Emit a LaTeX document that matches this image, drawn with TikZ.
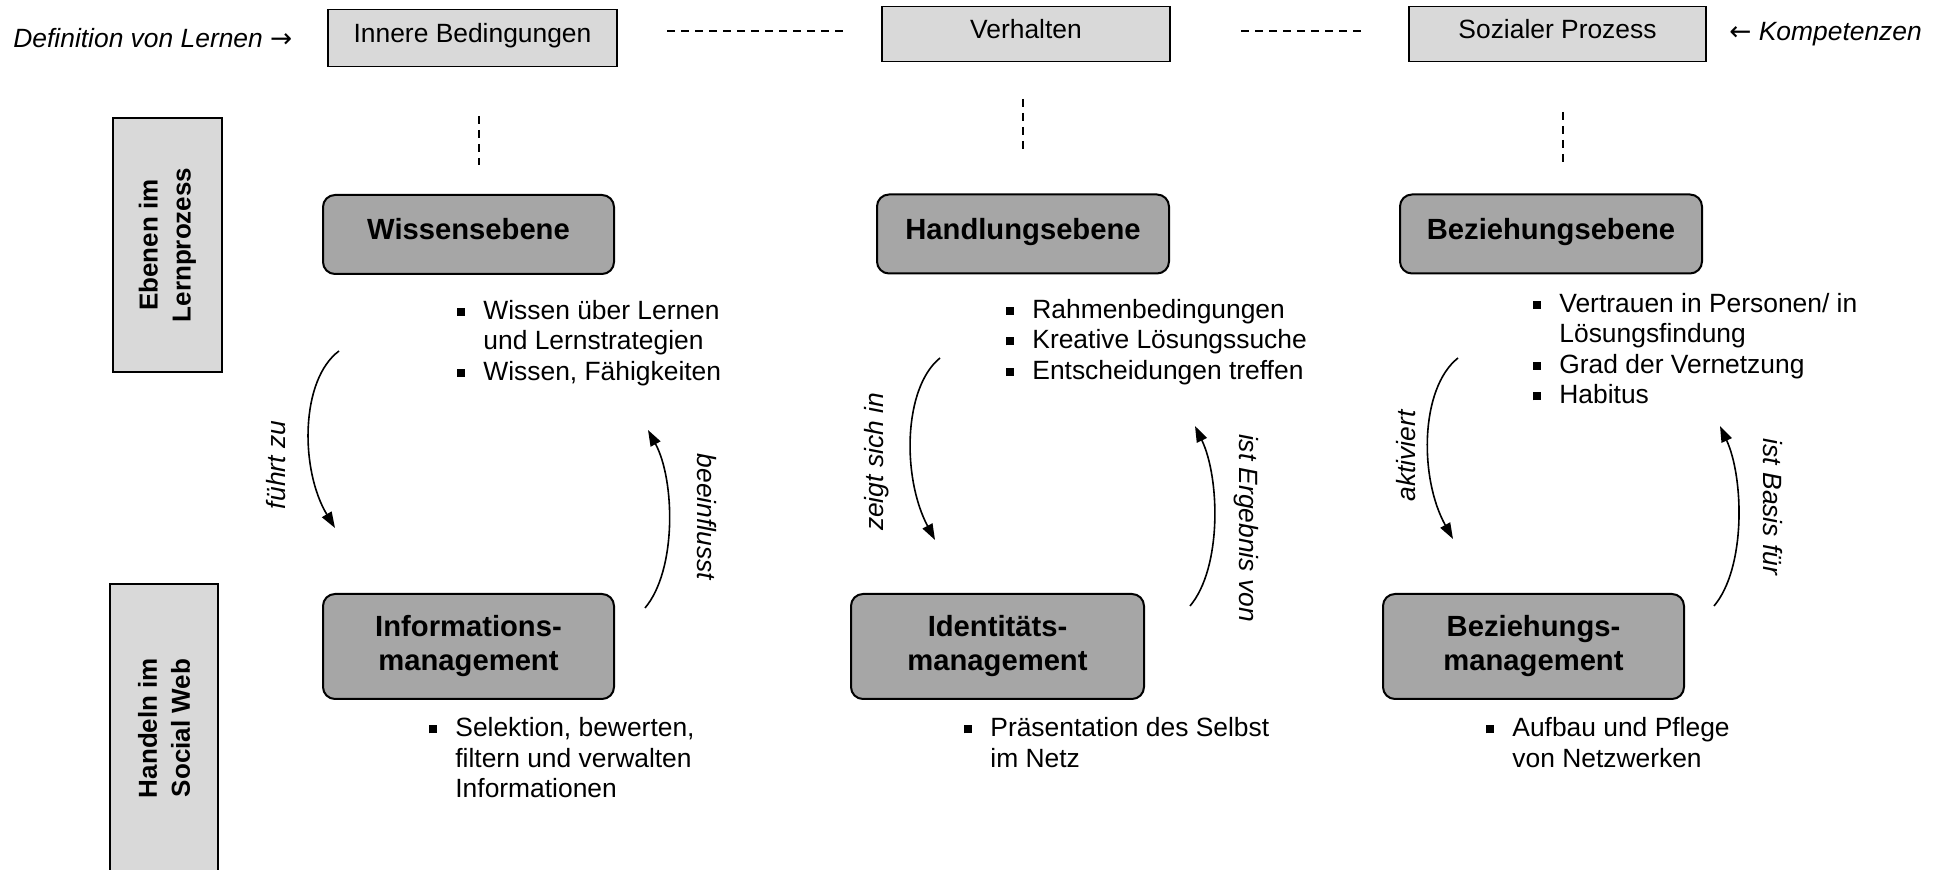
\documentclass[tikz,border=0pt]{standalone}
\usepackage{fontspec}
\setmainfont{Liberation Sans}
\newfontfamily\arrowfont{DejaVu Sans}
\usetikzlibrary{arrows.meta}
\definecolor{lightbox}{HTML}{D9D9D9}
\definecolor{darkbox}{HTML}{A6A6A6}
\newcommand{\bul}{\raisebox{1.8pt}{\rule{4pt}{4pt}}}
\tikzset{
  regfont/.style={font=\fontsize{13.2}{15.25}\selectfont},
  topbox/.style={draw, line width=0.8pt, fill=lightbox, inner sep=0pt,
    regfont, text height=10pt, text depth=5pt},
  levelbox/.style={draw, line width=1pt, fill=darkbox, rounded corners=6pt,
    inner sep=0pt, align=center, font=\fontsize{14.6}{17}\selectfont\bfseries},
  sidebox/.style={draw, line width=1pt, fill=lightbox, inner sep=0pt, rotate=90,
    align=center, font=\fontsize{13}{16.5}\selectfont\bfseries},
  dashline/.style={line width=0.7pt, dash pattern=on 4pt off 3pt},
  flow/.style={line width=0.8pt, -{Triangle[length=8pt,width=5.5pt]}},
  rel/.style={font=\fontsize{13.2}{15.25}\selectfont\itshape, inner sep=0pt},
  listnode/.style={regfont, anchor=base west, inner sep=0pt}
}
\begin{document}
\begin{tikzpicture}[x=0.5pt,y=-0.5pt]
\useasboundingbox (0,0) rectangle (1950,870);

% top row
\node[rel, anchor=west] (def) at (13,38) {Definition von Lernen {\upshape\arrowfont →}};
\node[topbox, minimum width=144.5pt, minimum height=28.5pt] (inner) at (472.5,38) {Innere Bedingungen};
\node[topbox, minimum width=144pt, minimum height=27.5pt] (verh) at (1026,34) {Verhalten};
\node[topbox, minimum width=148.5pt, minimum height=27.5pt] (soz) at (1557.5,34) {Sozialer Prozess};
\node[rel, anchor=west] (komp) at (1729,34) {{\upshape\arrowfont ←} Kompetenzen};

\coordinate (h1a) at (667,31); \coordinate (h1b) at (846,31);
\coordinate (h2a) at (1241,31); \coordinate (h2b) at (1366,31);
\draw[dashline] (h1a) -- (h1b);
\draw[dashline] (h2a) -- (h2b);

\coordinate (v1a) at (479,116); \coordinate (v1b) at (479,165);
\coordinate (v2a) at (1023,99); \coordinate (v2b) at (1023,153);
\coordinate (v3a) at (1563,112); \coordinate (v3b) at (1563,162);
\draw[dashline] (v1a) -- (v1b);
\draw[dashline] (v2a) -- (v2b);
\draw[dashline] (v3a) -- (v3b);

% side labels
\node[sidebox, minimum width=127pt, minimum height=54.5pt] (ebenen) at (167.5,245) {Ebenen im\\Lernprozess};
\node[sidebox, minimum width=144pt, minimum height=54pt] (handeln) at (164,728) {Handeln im\\Social Web};

% level boxes
\node[levelbox, minimum width=145.5pt, minimum height=39.5pt, text height=10.5pt, text depth=5pt] (wissen) at (468.5,234.5) {Wissensebene};
\node[levelbox, minimum width=146pt, minimum height=39.5pt, text height=10.5pt, text depth=5pt] (handl) at (1023,234) {Handlungsebene};
\node[levelbox, minimum width=151pt, minimum height=39.5pt, text height=10.5pt, text depth=5pt] (bez) at (1551,234) {Beziehungsebene};

\node[levelbox, minimum width=145.5pt, minimum height=52.5pt] (info) at (468.5,646.5) {Informations-\\management};
\node[levelbox, minimum width=146.5pt, minimum height=52.5pt] (ident) at (997.5,646.5) {Identitäts-\\management};
\node[levelbox, minimum width=150.5pt, minimum height=52.5pt] (bezm) at (1533.5,646.5) {Beziehungs-\\management};

% lists
\node[listnode] (lw) at (457,319.5) {\begin{tabular}[t]{@{}l@{\hspace{9pt}}l@{}}\bul & Wissen über Lernen\\ & und Lernstrategien\\ \bul & Wissen, Fähigkeiten\end{tabular}};
\node[listnode] (lh) at (1006,318.5) {\begin{tabular}[t]{@{}l@{\hspace{9pt}}l@{}}\bul & Rahmenbedingungen\\ \bul & Kreative Lösungssuche\\ \bul & Entscheidungen treffen\end{tabular}};
\node[listnode] (lb) at (1533,312.5) {\begin{tabular}[t]{@{}l@{\hspace{9pt}}l@{}}\bul & Vertrauen in Personen/ in\\ & Lösungsfindung\\ \bul & Grad der Vernetzung\\ \bul & Habitus\end{tabular}};
\node[listnode] (li) at (429,737) {\begin{tabular}[t]{@{}l@{\hspace{9pt}}l@{}}\bul & Selektion, bewerten,\\ & filtern und verwalten\\ & Informationen\end{tabular}};
\node[listnode] (lid) at (964,737) {\begin{tabular}[t]{@{}l@{\hspace{9pt}}l@{}}\bul & Präsentation des Selbst\\ & im Netz\end{tabular}};
\node[listnode] (lbm) at (1486,737) {\begin{tabular}[t]{@{}l@{\hspace{9pt}}l@{}}\bul & Aufbau und Pflege\\ & von Netzwerken\end{tabular}};

% arrows
\coordinate (a1s) at (339,351); \coordinate (a1e) at (335,528);
\draw[flow] (a1s) .. controls (300,380) and (300,470) .. (a1e);
\node[rel, rotate=90] (l1) at (276,465) {führt zu};

\coordinate (a2s) at (645,608); \coordinate (a2e) at (648,430);
\draw[flow] (a2s) .. controls (677,570) and (675,480) .. (a2e);
\node[rel, rotate=-90] (l2) at (707,517) {beeinflusst};

\coordinate (a3s) at (940,358); \coordinate (a3e) at (935,540);
\draw[flow] (a3s) .. controls (903,388) and (902,478) .. (a3e);
\node[rel, rotate=90] (l3) at (877,462) {zeigt sich in};

\coordinate (a4s) at (1190,606); \coordinate (a4e) at (1195,426);
\draw[flow] (a4s) .. controls (1222,568) and (1220,478) .. (a4e);
\node[rel, rotate=-90] (l4) at (1246,528) {ist Ergebnis von};

\coordinate (a5s) at (1458,358); \coordinate (a5e) at (1453,539);
\draw[flow] (a5s) .. controls (1420,388) and (1419,478) .. (a5e);
\node[rel, rotate=90] (l5) at (1406,456) {aktiviert};

\coordinate (a6s) at (1714,606); \coordinate (a6e) at (1720,426);
\draw[flow] (a6s) .. controls (1746,568) and (1744,478) .. (a6e);
\node[rel, rotate=-90] (l6) at (1773,507) {ist Basis für};
\end{tikzpicture}
\end{document}
